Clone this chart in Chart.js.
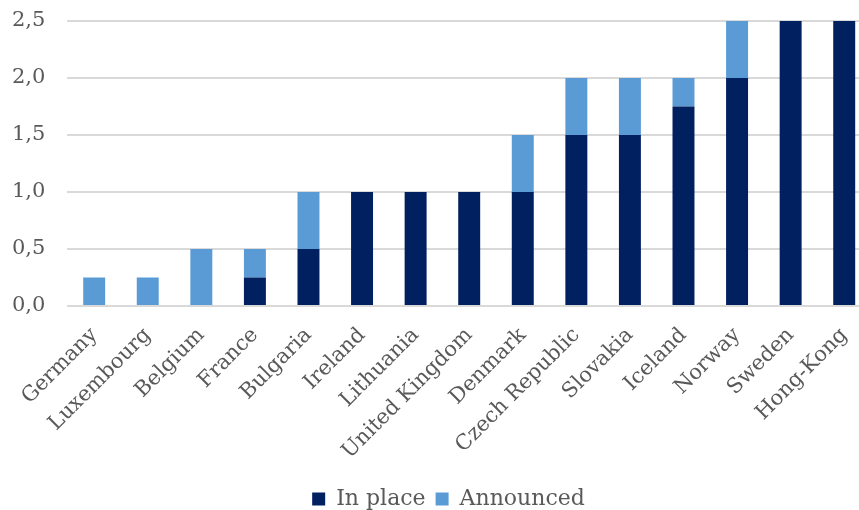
<!DOCTYPE html>
<html>
<head>
<meta charset="utf-8">
<script src="https://cdn.jsdelivr.net/npm/chart.js@4/dist/chart.umd.min.js"></script>
<style>
  html, body { margin: 0; padding: 0; background: #fff; overflow: hidden; }
  /* the original picture is cropped: the plot runs a bit past the right edge */
  #wrap { width: 871px; height: 510px; }
</style>
</head>
<body>
<div id="wrap"><canvas id="chart"></canvas></div>
<script>
// categories and values
const countries = ['Germany', 'Luxembourg', 'Belgium', 'France', 'Bulgaria', 'Ireland', 'Lithuania',
    'United Kingdom', 'Denmark', 'Czech Republic', 'Slovakia', 'Iceland', 'Norway', 'Sweden', 'Hong-Kong'];
const inPlace = [0, 0, 0, 0.25, 0.5, 1, 1, 1, 1, 1.5, 1.5, 1.75, 2, 2.5, 2.5];
const announced = [0.25, 0.25, 0.5, 0.25, 0.5, 0, 0, 0, 0.5, 0.5, 0.5, 0.25, 0.5, 0, 0];

const textColor = '#595959';
const serif = "'DejaVu Serif', 'Liberation Serif', serif";

// legend sits a bit right of centre in the original
const shiftLegend = {
    id: 'shiftLegend',
    afterLayout(chart) {
        chart.legend.left += 18;
        chart.legend.right += 18;
    },
};

const ctx = document.getElementById('chart').getContext('2d');

new Chart(ctx, {
    type: 'bar',
    data: {
        labels: countries,
        datasets: [
            {
                label: 'In place',
                data: inPlace,
                backgroundColor: '#002060',
                borderWidth: 0,
                barPercentage: 0.41,
                categoryPercentage: 1,
            },
            {
                label: 'Announced',
                data: announced,
                backgroundColor: '#5B9BD5',
                borderWidth: 0,
                barPercentage: 0.41,
                categoryPercentage: 1,
            },
        ],
    },
    plugins: [shiftLegend],
    options: {
        responsive: true,
        maintainAspectRatio: false,
        animation: false,
        layout: {
            padding: { top: 0, right: 0, left: -10, bottom: -10 },
        },
        plugins: {
            legend: {
                position: 'bottom',
                labels: {
                    color: textColor,
                    font: { family: serif, size: 22 },
                    boxWidth: 13,
                    boxHeight: 13,
                    padding: 10,
                },
            },
            tooltip: { enabled: false },
        },
        scales: {
            x: {
                stacked: true,
                grid: { display: false },
                border: { display: false },
                ticks: {
                    color: textColor,
                    font: { family: serif, size: 21 },
                    minRotation: 45,
                    maxRotation: 45,
                    autoSkip: false,
                    padding: 9,
                },
                afterFit: s => {
                    s.paddingLeft = 0;
                    s.paddingRight = 0;
                    s.height += 5;
                },
            },
            y: {
                stacked: true,
                min: 0,
                max: 2.5,
                border: { display: false },
                grid: {
                    color: '#d9d9d9',
                    lineWidth: 2,
                    drawTicks: false,
                },
                ticks: {
                    stepSize: 0.5,
                    color: textColor,
                    font: { family: serif, size: 21 },
                    padding: 22,
                    callback: v => v.toFixed(1).replace('.', ','),
                },
                afterFit: s => {
                    s.paddingTop = 21;
                },
            },
        },
    },
});
</script>
</body>
</html>
